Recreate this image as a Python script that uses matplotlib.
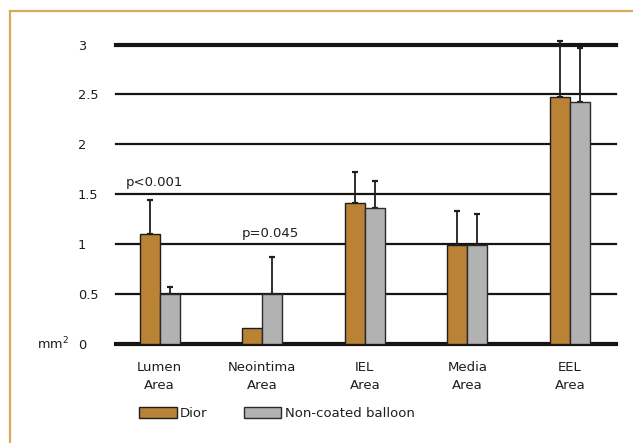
import matplotlib
matplotlib.use("Agg")
import matplotlib.pyplot as plt
from matplotlib.lines import Line2D
import numpy as np

plt.rcParams['font.family'] = ['DejaVu Sans']

categories = ["Lumen\nArea", "Neointima\nArea", "IEL\nArea", "Media\nArea", "EEL\nArea"]
dior = [1.10, 0.157, 1.413, 0.99, 2.477]
dior_err = [0.34, 0.0, 0.307, 0.343, 0.56]
ncb = [0.50, 0.50, 1.363, 0.99, 2.427]
ncb_err = [0.073, 0.373, 0.274, 0.31, 0.536]
yticks = [0, 0.5, 1, 1.5, 2, 2.5, 3]
ytick_labels = ["0", "0.5", "1", "1.5", "2", "2.5", "3"]
pvals = ["p<0.001", "p=0.045"]

W, H = 633, 443
fig = plt.figure(figsize=(W / 100, H / 100), dpi=100)
fig.patch.set_facecolor('white')

# border lines (left and top)
border_col = '#D9A85F'
fig.add_artist(Line2D([10 / W, 10 / W], [0, 1 - 11 / H], transform=fig.transFigure, color=border_col, lw=1.6))
fig.add_artist(Line2D([10 / W, 1], [1 - 11 / H, 1 - 11 / H], transform=fig.transFigure, color=border_col, lw=1.6))

ax_l, ax_r = 116 / W, 615.7 / W
ax_b, ax_t = (H - 344) / H, (H - 44.5) / H
ax = fig.add_axes([ax_l, ax_b, ax_r - ax_l, ax_t - ax_b])
ax.set_xlim(-0.424, 4.445)
ax.set_ylim(0, 3)
for s in ax.spines.values():
    s.set_visible(False)

txt_col = '#1e1e1e'
for y in yticks:
    lw = 3.0 if y in (0, 3) else 1.6
    ax.axhline(y, color='#151515', lw=lw, zorder=1, clip_on=False)

x = np.arange(len(categories))
bw = 0.195
dcol = '#BA8234'
gcol = '#B1B2B1'
ax.bar(x - bw / 2, dior, bw, color=dcol, edgecolor='#1e1e1e', lw=1.0, zorder=3, label='Dior')
ax.bar(x + bw / 2, ncb, bw, color=gcol, edgecolor='#2a2a2a', lw=1.0, zorder=3, label='Non-coated balloon')

for xi, v, e in zip(x - bw / 2, dior, dior_err):
    if e > 0:
        ax.errorbar(xi, v, yerr=[[0], [e]], fmt='none', ecolor='#1e1e1e', elinewidth=1.3,
                    capsize=2.2, capthick=1.6, zorder=2, clip_on=False)
for xi, v, e in zip(x + bw / 2, ncb, ncb_err):
    if e > 0:
        ax.errorbar(xi, v, yerr=[[0], [e]], fmt='none', ecolor='#1e1e1e', elinewidth=1.3,
                    capsize=2.2, capthick=1.6, zorder=2, clip_on=False)

ax.set_yticks(yticks)
ax.set_yticklabels(ytick_labels, fontsize=9.3, color=txt_col)
ax.tick_params(axis='y', length=0, pad=27.4)
for lbl in ax.get_yticklabels():
    lbl.set_horizontalalignment('left')

ax.set_xticks(x)
ax.set_xticklabels(categories, fontsize=9.5, color=txt_col, linespacing=1.45)
ax.tick_params(axis='x', length=0, pad=12.5)

fig.text(36.7 / W, 1 - 344 / H, r"mm$^{\mathregular{2}}$", fontsize=9.3, color=txt_col, va='center', ha='left')

ax.text(-0.05, 1.613, pvals[0], fontsize=9.5, color=txt_col, ha='center', va='center')
ax.text(1.08, 1.107, pvals[1], fontsize=9.5, color=txt_col, ha='center', va='center')

fig.legend(loc='center left', bbox_to_anchor=(139 / W, 1 - 413.7 / H), ncol=2, frameon=False,
           fontsize=9.5, handlelength=2.85, handleheight=0.85, handletextpad=0.25,
           columnspacing=2.75, borderpad=0, borderaxespad=0, labelcolor=txt_col)

fig.savefig("out.png", dpi=100)
